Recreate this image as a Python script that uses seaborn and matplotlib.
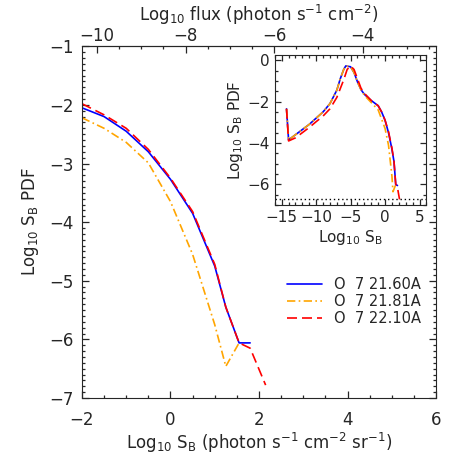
import matplotlib
matplotlib.use("Agg")
import matplotlib.pyplot as plt
import numpy as np
import pandas as pd
import seaborn as sns
from matplotlib.ticker import MultipleLocator, FixedLocator

# main panel: log10 SB PDF, zoom on bright end
x_main_blue = [-2.0, -1.5, -1.0, -0.5, 0.0, 0.5, 1.0, 1.25, 1.55, 1.8]
y_main_blue = [-2.05, -2.20, -2.45, -2.80, -3.27, -3.85, -4.75, -5.45, -6.06, -6.06]
x_main_orange = [-2.0, -1.5, -1.0, -0.5, 0.0, 0.5, 1.0, 1.25, 1.55]
y_main_orange = [-2.22, -2.40, -2.64, -2.99, -3.65, -4.55, -5.75, -6.46, -6.06]
x_main_red = [-2.0, -1.5, -1.0, -0.5, 0.0, 0.5, 1.0, 1.25, 1.55, 1.8, 2.15]
y_main_red = [-1.98, -2.17, -2.40, -2.76, -3.25, -3.82, -4.72, -5.45, -6.06, -6.15, -6.78]

# inset: full range
x_in_blue = [-14.3, -14.0, -13.0, -12.0, -11.0, -10.0, -9.0, -8.0, -7.0, -6.5, -6.0, -5.7,
             -5.0, -4.5, -4.0, -3.5, -3.0, -2.0, -1.0, -0.5, 0.0, 0.5, 1.0, 1.3, 1.55, 1.8]
y_in_blue = [-2.35, -3.85, -3.6, -3.35, -3.1, -2.8, -2.5, -2.1, -1.45, -0.9, -0.45, -0.28,
             -0.32, -0.6, -1.05, -1.42, -1.65, -1.95, -2.2, -2.5, -2.9, -3.5, -4.3, -4.9, -6.0, -6.05]
x_in_orange = [-14.3, -14.0, -13.0, -12.0, -11.0, -10.0, -9.0, -8.0, -7.0, -6.5, -6.0, -5.7,
               -5.0, -4.5, -4.0, -3.5, -3.0, -2.0, -1.0, 0.0, 0.5, 1.0, 1.15, 1.5]
y_in_orange = [-2.35, -3.85, -3.6, -3.35, -3.1, -2.8, -2.5, -2.1, -1.45, -0.9, -0.45, -0.28,
               -0.32, -0.6, -1.05, -1.42, -1.7, -2.05, -2.4, -3.3, -4.1, -5.6, -6.35, -6.05]
x_in_red = [-14.3, -14.0, -13.0, -12.0, -11.0, -10.0, -9.0, -8.0, -7.0, -6.0, -5.5, -5.0,
            -4.5, -4.0, -3.5, -3.0, -2.0, -1.0, -0.5, 0.0, 0.5, 1.0, 1.3, 1.55, 1.8, 2.1]
y_in_red = [-2.35, -3.9, -3.75, -3.5, -3.25, -2.97, -2.7, -2.35, -1.8, -0.95, -0.45, -0.28,
            -0.45, -0.9, -1.35, -1.6, -1.95, -2.2, -2.5, -2.9, -3.45, -4.25, -4.9, -6.0, -6.15, -6.72]
y_in_floor = -6.72

labels = ["O  7 21.60A", "O  7 21.81A", "O  7 22.10A"]
colors = ["#0000ff", "#ffa500", "#ff0000"]
styles = ["-", (0, (5, 2, 1, 2)), (0, (6, 3))]
flux_offset = -8.34
flux_ticks = [-10, -8, -6, -4]

sns.set_style("ticks")
plt.rcParams['font.family'] = ['DejaVu Sans']
plt.rcParams['mathtext.default'] = 'regular'

fig = plt.figure(figsize=(4.58, 4.58), dpi=100)
ax = fig.add_axes([0.179, 0.131, 0.773, 0.768])

mains = [(x_main_blue, y_main_blue), (x_main_orange, y_main_orange), (x_main_red, y_main_red)]
for (xs, ys), c, ls, lab in zip(mains, colors, styles, labels):
    df = pd.DataFrame({'x': xs, 'y': ys})
    sns.lineplot(data=df, x='x', y='y', ax=ax, color=c, linestyle=ls, lw=1.2,
                 estimator=None, sort=False, label=lab)

ax.set_xlim(-2, 6)
ax.set_ylim(-7, -1)
ax.xaxis.set_major_locator(MultipleLocator(2))
ax.xaxis.set_minor_locator(MultipleLocator(0.5))
ax.yaxis.set_major_locator(MultipleLocator(1))
ax.yaxis.set_minor_locator(MultipleLocator(0.1))
ax.tick_params(which='both', direction='in', right=True, labelsize=12, width=0.9)
ax.tick_params(axis='x', which='both', top=False, pad=9)
ax.tick_params(axis='y', pad=6)
ax.tick_params(which='major', length=5)
ax.tick_params(which='minor', length=2.5)
ax.set_xlabel(r'Log$_{10}$ S$_B$ (photon s$^{-1}$ cm$^{-2}$ sr$^{-1}$)', fontsize=12, labelpad=2)
ax.set_ylabel(r'Log$_{10}$ S$_B$ PDF', fontsize=12, labelpad=6)

top = ax.secondary_xaxis('top', functions=(lambda v: v + flux_offset, lambda v: v - flux_offset))
top.xaxis.set_major_locator(FixedLocator(flux_ticks))
top.xaxis.set_minor_locator(FixedLocator(np.arange(-10.0, -2.4, 0.5)))
top.tick_params(which='both', direction='in', labelsize=12, width=0.9, pad=1)
top.tick_params(which='major', length=5)
top.tick_params(which='minor', length=2.5)
top.set_xlabel(r'Log$_{10}$ flux (photon s$^{-1}$ cm$^{-2}$)', fontsize=12, labelpad=4)

leg = ax.legend(loc='upper left', bbox_to_anchor=(0.58, 0.345), frameon=False, fontsize=10.5,
                handlelength=2.4, handletextpad=0.8, labelspacing=0.15,
                borderaxespad=0, borderpad=0)

# inset
axi = fig.add_axes([0.600, 0.552, 0.331, 0.328])
insets = [(x_in_blue, y_in_blue), (x_in_orange, y_in_orange), (x_in_red, y_in_red)]
for (xs, ys), c, ls in zip(insets, colors, styles):
    df = pd.DataFrame({'x': xs, 'y': ys})
    sns.lineplot(data=df, x='x', y='y', ax=axi, color=c, linestyle=ls, lw=1.2,
                 estimator=None, sort=False, legend=False)
axi.axhline(y_in_floor, color='black', linestyle=(0, (1, 2)), lw=1)
axi.set_xlim(-16, 6)
axi.set_ylim(-7, 0.25)
axi.xaxis.set_major_locator(MultipleLocator(5))
axi.xaxis.set_minor_locator(MultipleLocator(1))
axi.yaxis.set_major_locator(MultipleLocator(2))
axi.yaxis.set_minor_locator(MultipleLocator(0.5))
axi.tick_params(which='both', direction='in', top=True, right=True, labelsize=11, width=0.9)
axi.tick_params(which='major', length=4)
axi.tick_params(which='minor', length=2)
axi.set_xlabel(r'Log$_{10}$ S$_B$', fontsize=11, labelpad=2)
axi.set_ylabel(r'Log$_{10}$ S$_B$ PDF', fontsize=11, labelpad=2)

fig.savefig('out.png', dpi=100)
